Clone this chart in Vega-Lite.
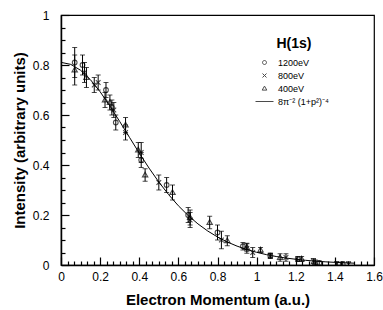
{
  "$schema": "https://vega.github.io/schema/vega-lite/v6.json",
  "width": 313,
  "height": 250,
  "autosize": "none",
  "padding": {"left": 61, "top": 15, "right": 9, "bottom": 45},
  "background": "white",
  "config": {
    "font": "Liberation Sans",
    "view": {"stroke": "black", "strokeWidth": 1.2},
    "axis": {
      "domainColor": "black", "domainWidth": 1.5, "tickColor": "black", "tickWidth": 1.2,
      "labelColor": "black", "labelFont": "Liberation Sans", "labelFontSize": 12,
      "titleColor": "black", "titleFont": "Liberation Sans", "titleFontSize": 15, "titleFontWeight": "bold",
      "grid": false
    }
  },
  "datasets": {
    "curve": [
      {"p": 0, "y": 0.8106}, {"p": 0.05, "y": 0.8025}, {"p": 0.1, "y": 0.779}, {"p": 0.15, "y": 0.7416},
      {"p": 0.2, "y": 0.6929}, {"p": 0.25, "y": 0.636}, {"p": 0.3, "y": 0.5742}, {"p": 0.35, "y": 0.5106},
      {"p": 0.4, "y": 0.4477}, {"p": 0.45, "y": 0.3877}, {"p": 0.5, "y": 0.332}, {"p": 0.55, "y": 0.2816},
      {"p": 0.6, "y": 0.2369}, {"p": 0.65, "y": 0.198}, {"p": 0.7, "y": 0.1645}, {"p": 0.75, "y": 0.136},
      {"p": 0.8, "y": 0.1121}, {"p": 0.85, "y": 0.0921}, {"p": 0.9, "y": 0.0755}, {"p": 0.95, "y": 0.0619},
      {"p": 1.0, "y": 0.0507}, {"p": 1.05, "y": 0.0415}, {"p": 1.1, "y": 0.034}, {"p": 1.15, "y": 0.0279},
      {"p": 1.2, "y": 0.0229}, {"p": 1.25, "y": 0.0188}, {"p": 1.3, "y": 0.0155}, {"p": 1.35, "y": 0.0128},
      {"p": 1.4, "y": 0.0106}, {"p": 1.45, "y": 0.0087}, {"p": 1.5, "y": 0.0073}
    ],
    "pts": [
      {"s": "1200eV", "p": 0.07, "y": 0.81, "e": 0.06},
      {"s": "1200eV", "p": 0.11, "y": 0.80, "e": 0.04},
      {"s": "1200eV", "p": 0.23, "y": 0.70, "e": 0.03},
      {"s": "1200eV", "p": 0.26, "y": 0.63, "e": 0.03},
      {"s": "1200eV", "p": 0.28, "y": 0.57, "e": 0.03},
      {"s": "1200eV", "p": 0.41, "y": 0.42, "e": 0.03},
      {"s": "1200eV", "p": 0.54, "y": 0.32, "e": 0.03},
      {"s": "1200eV", "p": 0.65, "y": 0.20, "e": 0.03},
      {"s": "1200eV", "p": 0.80, "y": 0.13, "e": 0.03},
      {"s": "1200eV", "p": 0.93, "y": 0.075, "e": 0.015},
      {"s": "1200eV", "p": 1.07, "y": 0.037, "e": 0.01},
      {"s": "1200eV", "p": 1.21, "y": 0.024, "e": 0.01},
      {"s": "1200eV", "p": 1.32, "y": 0.007, "e": 0.01},
      {"s": "1200eV", "p": 1.44, "y": 0.003, "e": 0.01},
      {"s": "800eV", "p": 0.12, "y": 0.77, "e": 0.04},
      {"s": "800eV", "p": 0.17, "y": 0.72, "e": 0.03},
      {"s": "800eV", "p": 0.19, "y": 0.73, "e": 0.03},
      {"s": "800eV", "p": 0.27, "y": 0.62, "e": 0.03},
      {"s": "800eV", "p": 0.33, "y": 0.53, "e": 0.03},
      {"s": "800eV", "p": 0.41, "y": 0.45, "e": 0.04},
      {"s": "800eV", "p": 0.50, "y": 0.33, "e": 0.03},
      {"s": "800eV", "p": 0.66, "y": 0.18, "e": 0.03},
      {"s": "800eV", "p": 0.82, "y": 0.10, "e": 0.035},
      {"s": "800eV", "p": 0.95, "y": 0.067, "e": 0.02},
      {"s": "800eV", "p": 0.98, "y": 0.05, "e": 0.02},
      {"s": "800eV", "p": 1.07, "y": 0.037, "e": 0.01},
      {"s": "800eV", "p": 1.15, "y": 0.03, "e": 0.015},
      {"s": "800eV", "p": 1.29, "y": 0.016, "e": 0.01},
      {"s": "800eV", "p": 1.41, "y": 0.004, "e": 0.01},
      {"s": "800eV", "p": 1.47, "y": 0.003, "e": 0.01},
      {"s": "400eV", "p": 0.07, "y": 0.78, "e": 0.06},
      {"s": "400eV", "p": 0.13, "y": 0.75, "e": 0.04},
      {"s": "400eV", "p": 0.225, "y": 0.66, "e": 0.03},
      {"s": "400eV", "p": 0.25, "y": 0.65, "e": 0.03},
      {"s": "400eV", "p": 0.33, "y": 0.56, "e": 0.03},
      {"s": "400eV", "p": 0.395, "y": 0.46, "e": 0.03},
      {"s": "400eV", "p": 0.43, "y": 0.36, "e": 0.025},
      {"s": "400eV", "p": 0.57, "y": 0.29, "e": 0.03},
      {"s": "400eV", "p": 0.66, "y": 0.19, "e": 0.03},
      {"s": "400eV", "p": 0.76, "y": 0.17, "e": 0.025},
      {"s": "400eV", "p": 0.85, "y": 0.097, "e": 0.02},
      {"s": "400eV", "p": 0.95, "y": 0.07, "e": 0.015},
      {"s": "400eV", "p": 1.02, "y": 0.06, "e": 0.01},
      {"s": "400eV", "p": 1.12, "y": 0.03, "e": 0.015},
      {"s": "400eV", "p": 1.23, "y": 0.024, "e": 0.01},
      {"s": "400eV", "p": 1.30, "y": 0.01, "e": 0.01}
    ]
  },
  "encoding": {
    "x": {
      "field": "p", "type": "quantitative",
      "scale": {"domain": [0, 1.6], "nice": false},
      "axis": {
        "title": "Electron Momentum  (a.u.)",
        "values": [0, 0.0333, 0.0667, 0.1, 0.1333, 0.1667, 0.2, 0.2333, 0.2667, 0.3, 0.3333, 0.3667, 0.4, 0.4333, 0.4667, 0.5, 0.5333, 0.5667, 0.6, 0.6333, 0.6667, 0.7, 0.7333, 0.7667, 0.8, 0.8333, 0.8667, 0.9, 0.9333, 0.9667, 1, 1.0333, 1.0667, 1.1, 1.1333, 1.1667, 1.2, 1.2333, 1.2667, 1.3, 1.3333, 1.3667, 1.4, 1.4333, 1.4667, 1.5, 1.5333, 1.5667, 1.6],
        "labelExpr": "abs(datum.value*5 - round(datum.value*5)) < 0.001 ? format(datum.value, '~g') : ''",
        "tickSize": {"condition": {"test": "abs(datum.value*5 - round(datum.value*5)) < 0.001", "value": -8}, "value": -4},
        "labelPadding": 14,
        "titlePadding": 10,
        "labelFlush": false
      }
    },
    "y": {
      "field": "y", "type": "quantitative",
      "scale": {"domain": [0, 1], "nice": false},
      "axis": {
        "title": "Intensity (arbitrary units)",
        "values": [0, 0.05, 0.1, 0.15, 0.2, 0.25, 0.3, 0.35, 0.4, 0.45, 0.5, 0.55, 0.6, 0.65, 0.7, 0.75, 0.8, 0.85, 0.9, 0.95, 1],
        "labelExpr": "abs(datum.value*5 - round(datum.value*5)) < 0.001 ? format(datum.value, '~g') : ''",
        "tickSize": {"condition": {"test": "abs(datum.value*5 - round(datum.value*5)) < 0.001", "value": -8}, "value": -4},
        "labelPadding": 20,
        "titlePadding": 5,
        "labelFlush": false
      }
    }
  },
  "layer": [
    {
      "data": {"name": "curve"},
      "mark": {"type": "line", "color": "black", "strokeWidth": 1, "clip": true},
      "encoding": {}
    },
    {
      "data": {"name": "pts"},
      "mark": {"type": "errorbar", "ticks": {"size": 5, "color": "black"}, "color": "black", "clip": true, "thickness": 1},
      "encoding": {"yError": {"field": "e"}}
    },
    {
      "data": {"name": "pts"},
      "mark": {"type": "point", "filled": false, "stroke": "black", "strokeWidth": 1.1, "size": 22, "clip": true},
      "encoding": {
        "shape": {
          "field": "s", "type": "nominal",
          "scale": {
            "domain": ["1200eV", "800eV", "400eV", "8π⁻² (1+p²)⁻⁴"],
            "range": ["M-1,0A1,1,0,1,1,1,0A1,1,0,1,1,-1,0Z", "M-1,-1L1,1M-1,1L1,-1", "M0,-1.2L1.15,0.8L-1.15,0.8Z", "M-4.5,0L4.5,0"]
          },
          "legend": {
            "title": "H(1s)",
            "orient": "none",
            "legendX": 199,
            "legendY": 22,
            "titleFontSize": 14,
            "titleFontWeight": "bold",
            "titleColor": "black",
            "titleAnchor": "middle",
            "titlePadding": 7,
            "labelFontSize": 9,
            "labelColor": "black",
            "labelOffset": 9,
            "symbolSize": 16,
            "symbolStrokeColor": "black",
            "symbolFillColor": "transparent",
            "symbolStrokeWidth": 1,
            "rowPadding": 3
          }
        }
      }
    }
  ]
}
